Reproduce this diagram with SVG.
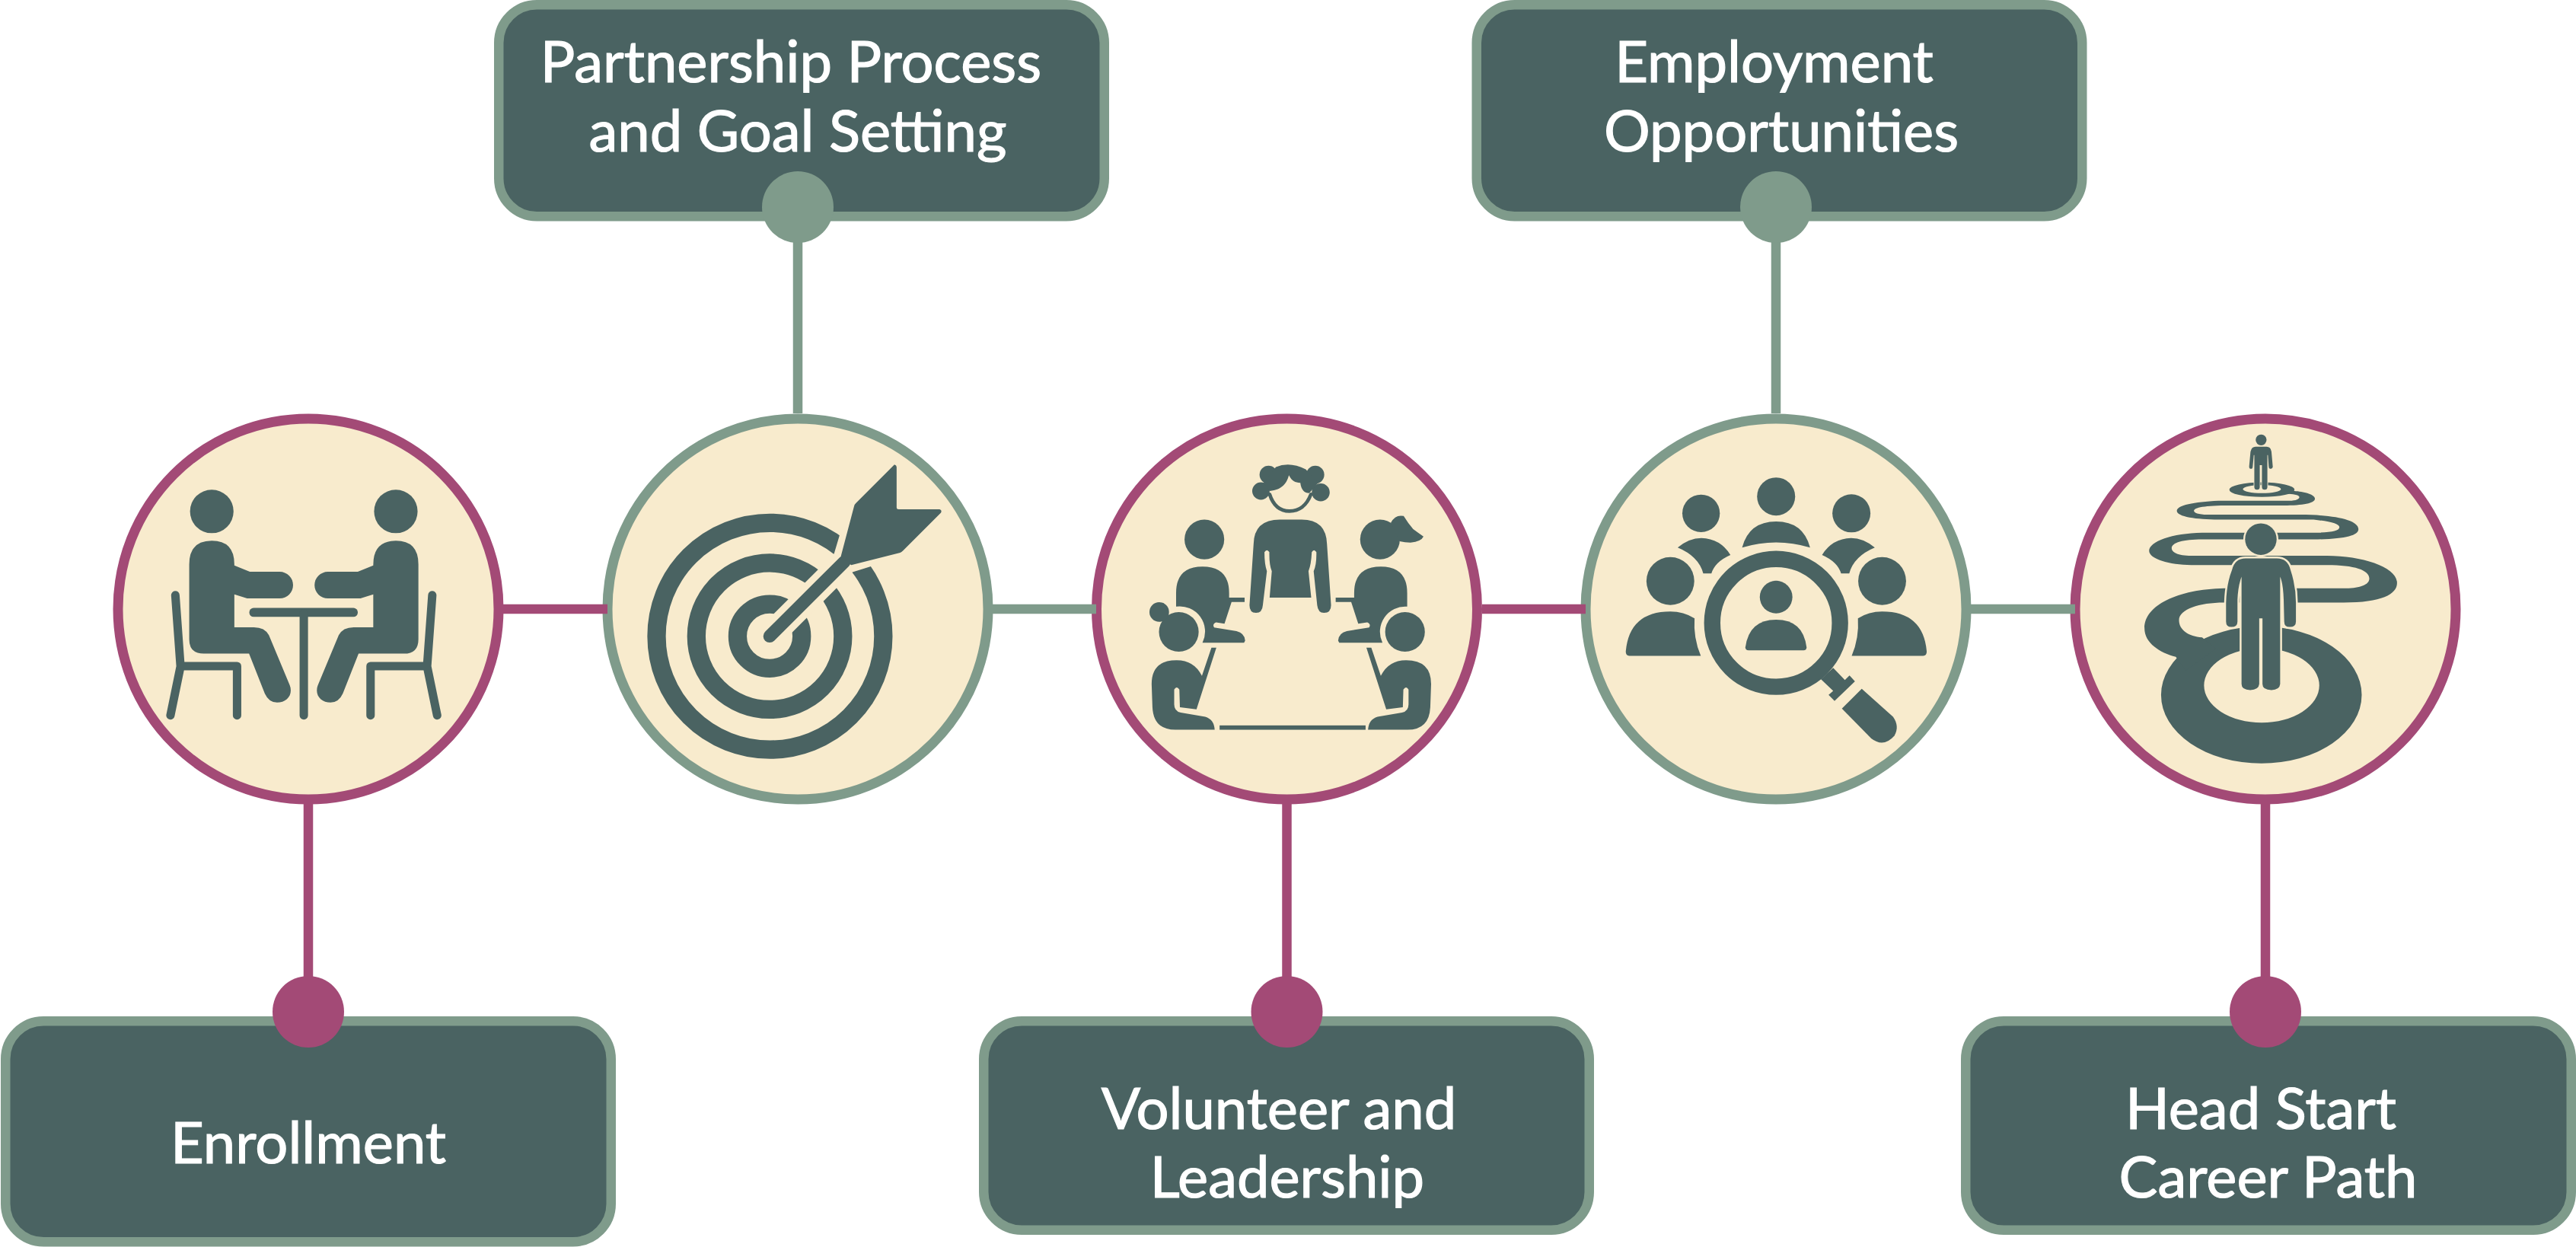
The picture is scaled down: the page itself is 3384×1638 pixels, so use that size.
<svg xmlns="http://www.w3.org/2000/svg" xmlns:xlink="http://www.w3.org/1999/xlink" width="3384" height="1638" viewBox="0 0 3384 1638">
<style>
.box{fill:#4A6362;stroke:#7F9B8B;stroke-width:12.5}
.lab{font-family:"Lato","Liberation Sans",sans-serif;font-size:76px;fill:#FFFFFF;stroke:#FFFFFF;stroke-width:1.2;text-anchor:middle}
.cp{fill:#F8EBCD;stroke:#A34A76;stroke-width:13}
.cs{fill:#F8EBCD;stroke:#7F9B8B;stroke-width:13}
.ic{fill:#4A6362}
.ln{stroke:#4A6362;fill:none;stroke-linecap:round;stroke-linejoin:round}
.cut{fill:#F8EBCD}
.p{stroke:#A34A76;stroke-width:12.5;fill:none}
.s{stroke:#7F9B8B;stroke-width:12.5;fill:none}
.dp{fill:#A34A76}
.ds{fill:#7F9B8B}
</style>
<defs>
<g id="sitter">
<path class="ic" d="M332 620Q332 533 415 533Q498 533 498 620V624L555 647H665A49 49 0 0 1 665 745H545L498 730V851H570Q610 851 625 880L702 1065C715 1100 690 1128 655 1128Q625 1128 610 1095L552 948H385Q332 948 332 895Z"/>
<path class="ln" stroke-width="31" d="M281 733L300 995L263 1175M300 994H508V1175"/>
</g>
<path id="g1" class="ic" d="M378 775V725Q378 628 475 628Q573 628 573 725V742H630V758H582L556 838L525 833Q510 840 518 852L600 865Q630 872 632 900L628 908H475A93 93 0 0 0 378 775Z"/>
<path id="g2" class="ic" d="M288 1060Q288 972 380 972Q445 972 473 1030L508 926H526L453 1153L392 1145L390 1080Q380 1065 371 1080V1135Q371 1160 395 1165L485 1180Q518 1190 520 1228H375Q295 1228 291 1145Z"/>
<path id="m1" class="ic" d="M403 558Q445 523 490 523Q560 525 597 585Q540 610 527 653H497Q480 590 403 558Z"/>
<path id="m2" class="ic" d="M212 940Q225 793 376 793Q425 793 465 818Q460 890 488 956H225Q212 956 212 940Z"/>
</defs>

<g id="node-enrollment">
<rect class="box" x="7.25" y="1341.25" width="795.5" height="290" rx="50"/>
<text class="lab" x="405" y="1527.5">Enrollment</text>
<circle class="cp" cx="405" cy="800" r="250"/>
<g transform="translate(130 520) scale(.35714)">
<circle class="ic" cx="415" cy="425" r="80"/><circle class="ic" cx="1092" cy="425" r="80"/>
<use xlink:href="#sitter" href="#sitter"/>
<use xlink:href="#sitter" href="#sitter" transform="translate(1507 0) scale(-1 1)"/>
<rect class="ic" x="553" y="780" width="399" height="33" rx="16"/>
<path class="ln" stroke-width="31" d="M753.5 800V1175"/>
</g>
</g>

<g id="node-partnership">
<rect class="box" x="655.25" y="6.25" width="795.5" height="278" rx="50"/>
<text class="lab" x="1039" y="108">Partnership Process</text>
<text class="lab" x="1048" y="199">and Goal Setting</text>
<circle class="cs" cx="1048" cy="800" r="250"/>
<g transform="translate(770 520) scale(.35714)">
<g fill="none" stroke="#4A6362">
<circle cx="676" cy="884" r="417" stroke-width="68"/>
<circle cx="675" cy="884" r="269.5" stroke-width="68"/>
<circle cx="675" cy="884" r="118" stroke-width="68"/>
</g>
<path class="cut" d="M680 812L912 580L932 513L1000 480L1100 600L1045 628L980 648L745 883Z"/>
<path class="ln" stroke-width="47" d="M675 884L950 610"/>
<path class="ic" d="M1134 253Q1142 255 1142 262V410Q1142 417 1150 417H1300Q1310 420 1305 430L1165 570Q1160 575 1155 577L975 622L937 590L985 408Q986 400 992 395Z"/>
</g>
</g>

<g id="node-volunteer">
<rect class="box" x="1292.25" y="1341.25" width="795.5" height="274.5" rx="50"/>
<text class="lab" x="1680" y="1482.5">Volunteer and</text>
<text class="lab" x="1691" y="1572.5">Leadership</text>
<circle class="cp" cx="1690.5" cy="800" r="250"/>
<g transform="translate(1410 520) scale(.35714)">
<circle class="ic" cx="718" cy="290" r="33"/><circle class="ic" cx="690" cy="350" r="32"/><circle class="ic" cx="890" cy="290" r="33"/><circle class="ic" cx="910" cy="355" r="33"/>
<path class="ic" d="M700 320L745 262Q795 240 855 270L900 320L868 358C850 358 838 345 835 320C815 318 805 315 793 292C785 320 770 345 722 350Z"/>
<path class="ln" stroke-width="13" d="M722 362Q742 424 795 424Q850 424 874 362"/>
<path class="ic" d="M663 545Q665 455 760 455H840Q930 455 933 545L948 770Q948 798 922 798Q900 798 897 770L884 645Q895 620 894 575Q885 560 877 575Q875 620 865 645L875 742H722L730 645Q720 620 721 575Q712 560 703 575Q703 620 712 645L697 770Q695 798 672 798Q648 798 648 770Z"/>
<circle class="ic" cx="482" cy="528" r="73"/>
<use xlink:href="#g1" href="#g1"/>
<circle class="ic" cx="1128" cy="528" r="73"/>
<path class="ic" d="M1228 775V725Q1228 628 1131 628Q1033 628 1033 725V742H965V758H1022L1048 838L1081 833Q1096 840 1088 852L1006 865Q976 872 974 900L978 908H1137A93 93 0 0 1 1228 775Z"/>
<path class="ic" d="M1168 466Q1185 435 1215 442Q1232 470 1250 490Q1270 505 1288 517Q1280 535 1240 540Q1220 540 1200 535Z"/>
<circle class="ic" cx="388" cy="868" r="73"/><circle class="ic" cx="316" cy="795" r="36"/>
<use xlink:href="#g2" href="#g2"/>
<circle class="ic" cx="1220" cy="868" r="73"/>
<use xlink:href="#g2" href="#g2" transform="translate(1604 0) scale(-1 1)"/>
<rect class="ic" x="538" y="1212" width="537" height="16"/>
</g>
</g>

<g id="node-employment">
<rect class="box" x="1939.75" y="6.25" width="795.5" height="278" rx="50"/>
<text class="lab" x="2330.5" y="108">Employment</text>
<text class="lab" x="2340" y="199">Opportunities</text>
<circle class="cs" cx="2333" cy="800" r="250"/>
<g transform="translate(2060 520) scale(.35714)">
<circle class="ic" cx="765" cy="370" r="70"/>
<path class="ic" d="M640 558Q665 462 765 462Q865 462 890 558Q765 520 640 558Z"/>
<circle class="ic" cx="489" cy="432" r="69"/><circle class="ic" cx="1042" cy="432" r="70"/>
<use xlink:href="#m1" href="#m1"/><use xlink:href="#m1" href="#m1" transform="translate(1531 0) scale(-1 1)"/>
<circle class="ic" cx="376" cy="681" r="88"/><circle class="ic" cx="1155" cy="681" r="88"/>
<use xlink:href="#m2" href="#m2"/><use xlink:href="#m2" href="#m2" transform="translate(1531 0) scale(-1 1)"/>
<circle cx="765" cy="835" r="235" fill="none" stroke="#4A6362" stroke-width="60"/>
<circle class="ic" cx="765" cy="740" r="60"/>
<path class="ic" d="M652 925Q665 823 765 823Q865 823 877 925Q877 936 866 936H664Q652 936 652 925Z"/>
<path class="ic" d="M975 1000L1018 1045L1035 1028L1055 1050L980 1122L958 1100L975 1085L930 1042Z"/>
<path class="ic" d="M1080 1077L1195 1180Q1220 1215 1200 1250Q1160 1295 1115 1260L1007 1150Z"/>
</g>
</g>

<g id="node-headstart">
<rect class="box" x="2582.25" y="1341.25" width="795.5" height="274.5" rx="50"/>
<text class="lab" x="2970" y="1482.5">Head Start</text>
<text class="lab" x="2979.5" y="1572.5">Career Path</text>
<circle class="cp" cx="2976" cy="800" r="250"/>
<g transform="translate(2700 520) scale(.35714)">
<path class="ic" fill-rule="evenodd" d="M389 1100A369 252 0 1 1 1127 1100A369 252 0 1 1 389 1100ZM547 1065A212 137 0 1 0 971 1065A212 137 0 1 0 547 1065Z"/>
<path class="ic" d="M620 760H1060C1200 760 1257 730 1257 688C1257 630 1130 588 1000 588H500C450 588 428 575 428 560C428 540 470 528 540 528H950C1060 527 1115 515 1115 490C1115 455 1020 437 900 437H560C525 437 510 430 510 423C510 410 550 403 640 403H840C910 403 955 395 955 378C955 360 900 350 875 350L850 360C860 360 890 362 897 370C900 378 890 386 860 386H600C510 390 447 403 447 423C447 445 520 455 600 455H950C1010 462 1045 470 1045 483C1045 498 1010 503 950 503H540C430 505 345 535 345 570C345 600 420 622 500 622H1000C1100 622 1155 640 1155 672C1155 695 1120 708 1060 708H620C450 712 328 770 328 855C328 910 385 945 443 960L480 1010L590 930L540 888C490 885 455 860 455 825C455 785 530 760 620 760Z"/>
<path class="ic" fill-rule="evenodd" d="M640 345A120 27 0 1 1 880 345A120 27 0 1 1 640 345ZM690 343A70 15 0 1 0 830 343A70 15 0 1 0 690 343Z"/>
<circle class="ic" cx="756" cy="527" r="58" stroke="#F8EBCD" stroke-width="13" paint-order="stroke"/>
<path class="ic" stroke="#F8EBCD" stroke-width="14" paint-order="stroke" d="M700 598H815Q855 598 865 640Q885 700 885 760V830Q885 850 862 850Q842 850 842 830L840 750Q838 690 827 665V1060Q825 1082 795 1082Q762 1082 762 1060V818H750V1060Q748 1082 717 1082Q685 1082 685 1060V665Q672 700 670 750V830Q670 850 648 850Q628 850 628 830V760Q630 690 650 640Q660 598 700 598Z"/>
<circle class="ic" cx="757" cy="162" r="20"/>
<path class="ic" stroke="#F8EBCD" stroke-width="5" paint-order="stroke" d="M737 187H777Q792 187 795 205L800 262Q797 270 790 268Q785 268 785 260L782 218H780V335Q780 345 770 345Q760 345 760 335V255H752V335Q752 345 742 345Q732 345 732 335V218H730L726 262Q725 270 720 268Q713 270 713 260L718 205Q722 187 737 187Z"/>
</g>
</g>

<g id="connectors">
<path class="p" d="M661 800H798"/>
<path class="s" d="M1304 800H1440"/>
<path class="p" d="M1947 800H2083"/>
<path class="s" d="M2589 800H2726"/>
<path class="p" d="M405 1056V1329"/><circle class="dp" cx="405" cy="1329" r="47"/>
<path class="s" d="M1048 543V272"/><circle class="ds" cx="1048" cy="272" r="47"/>
<path class="p" d="M1690.5 1056V1329"/><circle class="dp" cx="1690.5" cy="1329" r="47"/>
<path class="s" d="M2333 543V272"/><circle class="ds" cx="2333" cy="272" r="47"/>
<path class="p" d="M2976 1056V1329"/><circle class="dp" cx="2976" cy="1329" r="47"/>
</g>
</svg>
